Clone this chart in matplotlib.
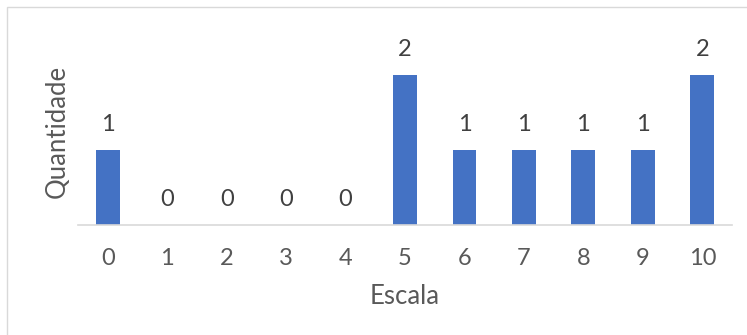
import matplotlib.pyplot as plt
from matplotlib.patches import Rectangle

escala = [0, 1, 2, 3, 4, 5, 6, 7, 8, 9, 10]
quantidade = [1, 0, 0, 0, 0, 2, 1, 1, 1, 1, 2]

W, H = 747, 335
fig = plt.figure(figsize=(W / 100, H / 100), dpi=100)
fig.patches.append(Rectangle((7 / W, -0.1), 1.2, 1.1 - 7 / H, transform=fig.transFigure,
                             fill=False, edgecolor='#d9d9d9', linewidth=1))

ax = fig.add_axes([78 / W, (H - 225) / H, 654 / W, 188 / H])
ax.bar(escala, quantidade, width=0.4, color='#4472c4')
ax.set_xlim(-0.5, 10.5)
ax.set_ylim(0, 2.5)

for x, y in zip(escala, quantidade):
    ax.annotate(str(y), (x, y), xytext=(0, 18), textcoords='offset points',
                ha='center', va='center', fontsize=17, color='#404040', family='Lato')

for s in ['top', 'right', 'left']:
    ax.spines[s].set_visible(False)
ax.spines['bottom'].set_color('#d9d9d9')
ax.spines['bottom'].set_linewidth(1.2)
ax.set_yticks([])
ax.set_xticks(escala)
ax.tick_params(axis='x', length=0, pad=16.5, labelsize=17, labelcolor='#595959')
for lbl in ax.get_xticklabels():
    lbl.set_family('Lato')

ax.set_xlabel('Escala', fontsize=18.5, color='#595959', family='Lato', labelpad=11)
ax.set_ylabel('Quantidade', fontsize=18.5, color='#595959', family='Lato', labelpad=6)

fig.savefig('out.png', dpi=100)
